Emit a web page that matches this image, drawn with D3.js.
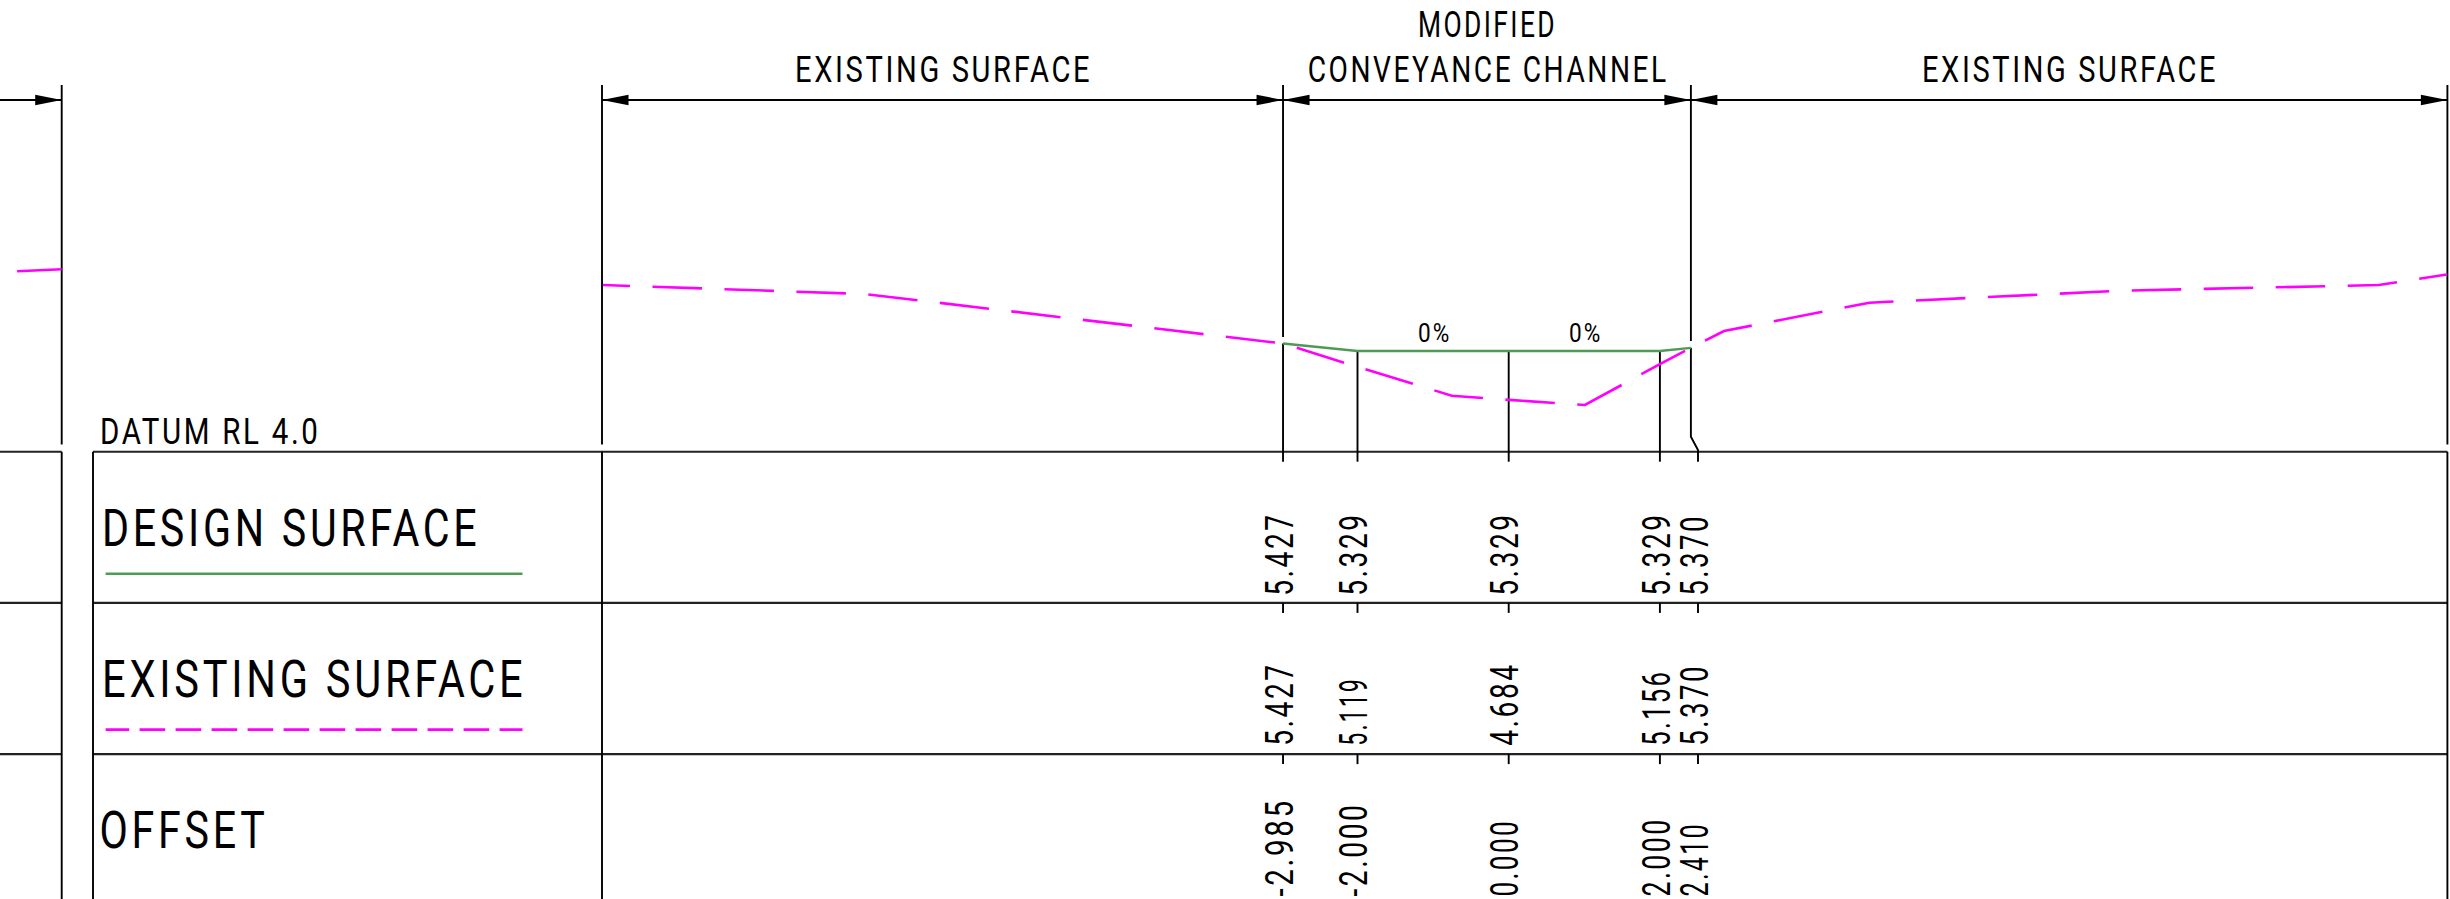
<!DOCTYPE html>
<html>
<head>
<meta charset="utf-8">
<script src="https://cdn.jsdelivr.net/npm/d3@7"></script>
<style>
  html, body { margin: 0; padding: 0; background: #fff; overflow: hidden; }
  svg { display: block; }
  text { font-family: Roboto, sans-serif; font-weight: 400; fill: #000; letter-spacing: 0.09em; }
</style>
</head>
<body>
<div class="canvas"></div>
<script>
// stations of the section, metres from the channel centre line
const offsets = [-2.985, -2.0, 0.0, 2.0, 2.41];
const designLevels = [5.427, 5.329, 5.329, 5.329, 5.37];
const existingLevels = [5.427, 5.119, 4.684, 5.156, 5.37];

// existing surface
const surfaceOffsets = [-11.98, -8.516, -2.985, -2.0, -0.754, 0.0, 1.009, 2.0, 2.41, 2.848, 4.771, 8.086, 11.507, 12.41];
const surfaceLevels = [6.199, 6.08, 5.427, 5.119, 4.739, 4.684, 4.616, 5.156, 5.37, 5.592, 5.966, 6.123, 6.199, 6.338];

// end of the neighbouring section at the left edge
const stubOffsets = [-19.73, -19.14];
const stubLevels = [6.38, 6.406];

const grades = ['0%', '0%'];
const rowNames = ['DESIGN SURFACE', 'EXISTING SURFACE', 'OFFSET'];

const width = 2450;
const height = 899;

const svg = d3.select('.canvas')
    .append('svg')
    .attr('width', width)
    .attr('height', height);

// drawing is to true scale, same px per metre both ways
const x = d3.scaleLinear().domain([0, 1]).range([1508.7, 1584.3]);
const y = d3.scaleLinear().domain([4, 5]).range([451.7, 375.9]);

const rowY = [451.7, 602.9, 754.1];
const leftEdge = 61.7;
const tableLeft = 93;
const sectionLeft = 602;
const sectionRight = 2447.4;
const dimY = 100;
const dimTop = 85;
const datumGap = 444.5;

const lineGen = d3.line().x(d => x(d[0])).y(d => y(d[1]));

function seg(x1, y1, x2, y2, w = 1.9, col = '#000') {
    svg.append('line')
        .attr('x1', x1).attr('y1', y1)
        .attr('x2', x2).attr('y2', y2)
        .attr('stroke', col)
        .attr('stroke-width', w);
}

// len is the visible width, textLength also counts the trailing letter space
function label(str, px, py, size, len, rotate = false) {
    svg.append('text')
        .attr('transform', `translate(${px}, ${py})` + (rotate ? ' rotate(-90)' : ''))
        .attr('font-size', size)
        .attr('textLength', len + size * 0.085)
        .attr('lengthAdjust', 'spacingAndGlyphs')
        .text(str);
}

function arrow(tip, dir) {
    svg.append('path')
        .attr('d', `M${tip},${dimY}L${tip + dir * 26.5},${dimY - 5.2}L${tip + dir * 26.5},${dimY + 5.2}Z`)
        .attr('fill', '#000');
}

// table rows
rowY.forEach(r => {
    seg(0, r, leftEdge, r, 2.1, '#222');
    seg(tableLeft, r, sectionRight, r, 2.1, '#222');
});
seg(leftEdge, dimTop, leftEdge, datumGap);
seg(leftEdge, rowY[0], leftEdge, height);
seg(tableLeft, rowY[0], tableLeft, height);
seg(sectionLeft, dimTop, sectionLeft, datumGap);
seg(sectionLeft, rowY[0], sectionLeft, height);
seg(sectionRight, dimTop, sectionRight, datumGap);
seg(sectionRight, rowY[0], sectionRight, height);

// dimension lines across the top
const channelLeft = x(offsets[0]);
const channelRight = x(offsets[4]);
seg(0, dimY, leftEdge, dimY);
seg(sectionLeft, dimY, sectionRight, dimY);
arrow(leftEdge, -1);
[[sectionLeft, channelLeft], [channelLeft, channelRight], [channelRight, sectionRight]].forEach(d => {
    arrow(d[0], 1);
    arrow(d[1], -1);
});

// station lines, broken above the design surface
seg(channelLeft, dimTop, channelLeft, 337);
seg(channelRight, dimTop, channelRight, 341);
offsets.slice(0, 4).forEach((o, i) => seg(x(o), y(designLevels[i]), x(o), 461.7));
svg.append('path')
    .attr('d', d3.line()([[channelRight, y(designLevels[4])], [channelRight, 436.7], [1698, 450], [1698, 461.7]]))
    .attr('fill', 'none')
    .attr('stroke', '#000')
    .attr('stroke-width', 1.9);

// ticks below the row lines
const tickX = offsets.slice(0, 4).map(o => x(o)).concat(1698);
tickX.forEach(t => {
    seg(t, rowY[1], t, rowY[1] + 10);
    seg(t, rowY[2], t, rowY[2] + 10);
});

// surfaces
svg.append('path')
    .attr('d', lineGen(surfaceOffsets.map((o, i) => [o, surfaceLevels[i]])))
    .attr('fill', 'none')
    .attr('stroke', '#ff00ff')
    .attr('stroke-width', 2.6)
    .attr('stroke-dasharray', '49.5 22.5')
    .attr('stroke-dashoffset', 22.5);

svg.append('path')
    .attr('d', lineGen(stubOffsets.map((o, i) => [o, stubLevels[i]])))
    .attr('fill', 'none')
    .attr('stroke', '#ff00ff')
    .attr('stroke-width', 2.6);

svg.append('path')
    .attr('d', lineGen(offsets.map((o, i) => [o, designLevels[i]])))
    .attr('fill', 'none')
    .attr('stroke', '#4f9a55')
    .attr('stroke-width', 2.4);

// legend samples
seg(105.6, 573.7, 522.5, 573.7, 2.4, '#4f9a55');
svg.append('line')
    .attr('x1', 105.6).attr('y1', 729.7)
    .attr('x2', 522.5).attr('y2', 729.7)
    .attr('stroke', '#ff00ff')
    .attr('stroke-width', 2.8)
    .attr('stroke-dasharray', '25.6 10.4')
    .attr('stroke-dashoffset', 2);

// headings
label('EXISTING SURFACE', 795, 81.7, 36.6, 294);
label('MODIFIED', 1418, 36.7, 36.6, 136);
label('CONVEYANCE CHANNEL', 1307.7, 81.7, 36.6, 358);
label('EXISTING SURFACE', 1922, 81.7, 36.6, 293);
label('DATUM RL 4.0', 100, 444.3, 36.6, 217.5);
label(grades[0], 1418, 341.7, 26.7, 31);
label(grades[1], 1569, 341.7, 26.7, 31);
label(rowNames[0], 102, 546, 52.7, 374);
label(rowNames[1], 102, 697.3, 52.7, 420);
label(rowNames[2], 99.5, 848.3, 52.7, 164.5);

// number widths of the drafting font: the 1 and 0 run narrower
function numLength(s) {
    return d3.sum(s.split(''), c => {
        if (c === '.') return 12;
        if (c === '-') return 15;
        if (c === '1') return 9.7;
        if (c === '0') return 15.6;
        return 17;
    });
}

const fix = v => v.toFixed(3);
[[designLevels, 595.7], [existingLevels, 745.7], [offsets, 896.5]].forEach(row => {
    row[0].forEach((v, i) => {
        const s = fix(v);
        label(s, tickX[i] + 9.7, row[1], 38, numLength(s), true);
    });
});
</script>
</body>
</html>
